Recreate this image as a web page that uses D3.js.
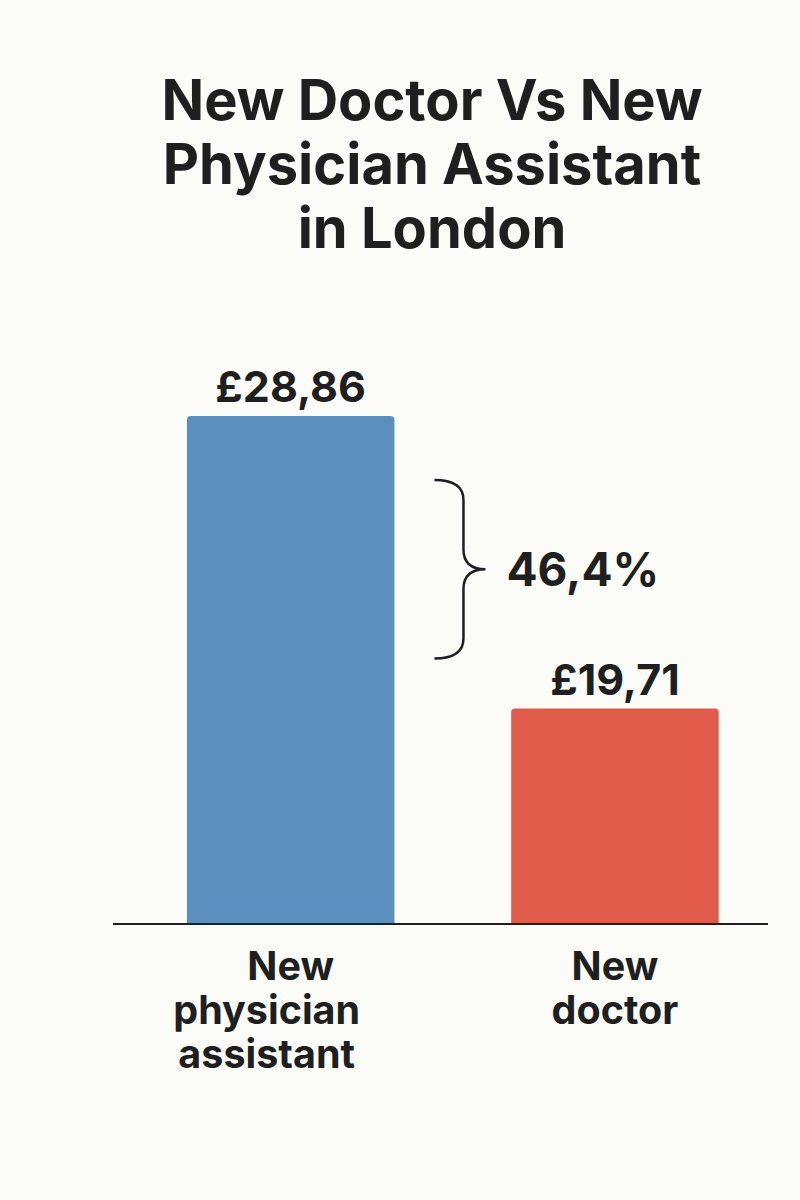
<!DOCTYPE html>
<html>
<head>
<meta charset="utf-8">
<script src="https://cdn.jsdelivr.net/npm/d3@7"></script>
<style>
  html, body { margin: 0; padding: 0; background: #fbfbf8; }
  svg { display: block; }
  text { font-family: Inter, "Noto Sans", sans-serif; fill: #1f1f1f; }
</style>
</head>
<body>
<svg id="chart" width="800" height="1200"></svg>
<script>
// ---- data ----
const categories = ["New physician assistant", "New doctor"];
const categoryLines = [["New", "physician", "assistant"], ["New", "doctor"]];
const values = [28.86, 19.71];
const colors = ["#5b8fbe", "#e05b49"];
const titleLines = ["New Doctor Vs New", "Physician Assistant", "in London"];
const diffLabel = "46,4%";
const currency = "£";

// ---- layout ----
const W = 800, H = 1200;
const svg = d3.select("#chart");
svg.append("rect").attr("width", W).attr("height", H).attr("fill", "#fbfbf8");

const axisLeft = 113, axisRight = 768, baseY = 924;

const x = d3.scaleBand()
  .domain(categories)
  .range([axisLeft, axisRight])
  .paddingInner(0.36)
  .paddingOuter(0.19)
  .align(0.6);

const y = d3.scaleLinear()
  .domain([12.97, 28.86])
  .range([baseY, 416]);

// title
const title = svg.append("text")
  .attr("text-anchor", "middle")
  .attr("font-size", 56)
  .attr("font-weight", 700);
titleLines.forEach((t, i) => {
  title.append("tspan").attr("x", 432).attr("y", 120 + i * 64).text(t);
});

// bars with rounded top corners
function barPath(x0, y0, w, h, r) {
  return `M${x0},${y0 + h} L${x0},${y0 + r} Q${x0},${y0} ${x0 + r},${y0} L${x0 + w - r},${y0} Q${x0 + w},${y0} ${x0 + w},${y0 + r} L${x0 + w},${y0 + h} Z`;
}
svg.selectAll("path.bar")
  .data(categories)
  .join("path")
  .attr("class", "bar")
  .attr("fill", (d, i) => colors[i])
  .attr("d", (d, i) => barPath(x(d), y(values[i]), x.bandwidth(), baseY - y(values[i]), 4));

// value labels
svg.selectAll("text.val")
  .data(categories)
  .join("text")
  .attr("class", "val")
  .attr("text-anchor", "middle")
  .attr("font-size", 43)
  .attr("font-weight", 700)
  .attr("x", d => x(d) + x.bandwidth() / 2)
  .attr("y", (d, i) => y(values[i]) - 14)
  .text((d, i) => currency + values[i].toFixed(2).replace(".", ","));

// axis baseline
svg.append("line")
  .attr("x1", axisLeft).attr("x2", axisRight)
  .attr("y1", baseY).attr("y2", baseY)
  .attr("stroke", "#1f1f1f").attr("stroke-width", 2);

// category labels
categories.forEach((c, i) => {
  const t = svg.append("text")
    .attr("text-anchor", "middle")
    .attr("font-size", 39.5)
    .attr("font-weight", 700);
  categoryLines[i].forEach((line, j) => {
    t.append("tspan")
      .attr("x", x(c) + x.bandwidth() / 2 + (i === 0 && j > 0 ? -24 : 0))
      .attr("y", baseY + 56 + j * 44)
      .text(line);
  });
});

// brace annotation
const bTop = y(values[0]) + 64;
const bBot = y(values[1]) - 50;
const bMid = (bTop + bBot) / 2;
const bx0 = x(categories[0]) + x.bandwidth() + 40;
const bx1 = bx0 + 29;
const bx2 = bx0 + 51;
const r = 20;
svg.append("path")
  .attr("fill", "none")
  .attr("stroke", "#1f1f1f")
  .attr("stroke-width", 2.5)
  .attr("d", `M${bx0},${bTop} Q${bx1},${bTop} ${bx1},${bTop + r} L${bx1},${bMid - r} Q${bx1},${bMid} ${bx2},${bMid} Q${bx1},${bMid} ${bx1},${bMid + r} L${bx1},${bBot - r} Q${bx1},${bBot} ${bx0},${bBot}`);

svg.append("text")
  .attr("x", bx2 + 21)
  .attr("y", bMid + 17)
  .attr("font-size", 46)
  .attr("font-weight", 700)
  .text(diffLabel);
</script>
</body>
</html>
